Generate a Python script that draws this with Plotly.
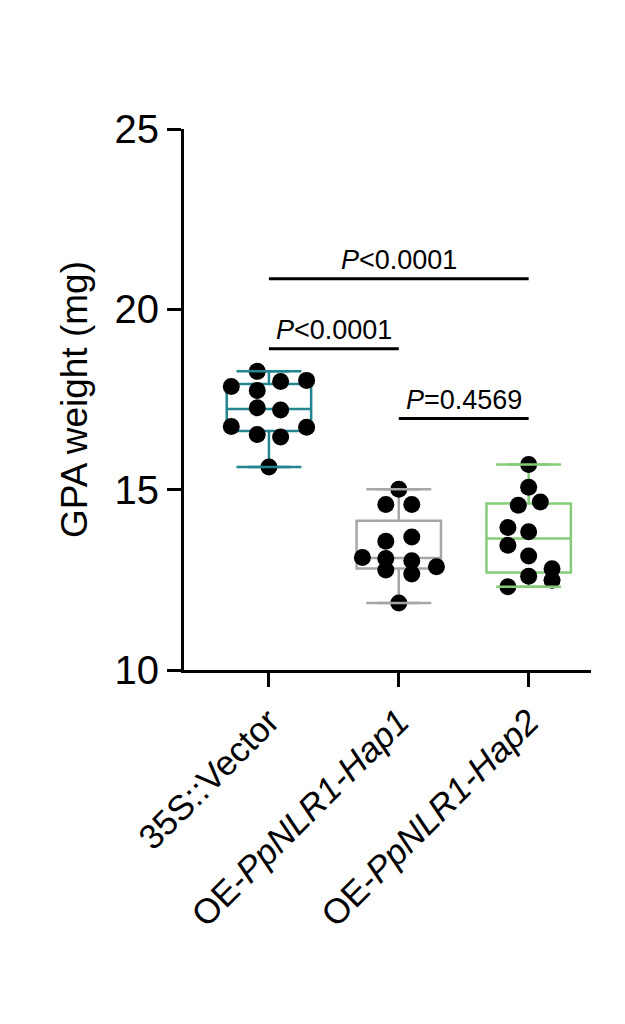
import plotly.graph_objects as go
import numpy as np

categories = ["35S::Vector", "OE-<i>PpNLR1-Hap1</i>", "OE-<i>PpNLR1-Hap2</i>"]
vec = [18.28, 18.00, 18.03, 17.86, 17.75, 17.27, 17.21, 16.75, 16.73, 16.53, 16.46, 15.63]
hap1 = [15.01, 14.59, 14.59, 13.69, 13.57, 13.12, 13.09, 13.03, 12.86, 12.77, 12.66, 11.86]
hap2 = [15.70, 15.07, 14.57, 14.66, 13.95, 13.83, 13.46, 13.16, 12.81, 12.60, 12.49, 12.31]
jit1 = [-0.09, 0.09, 0.29, -0.29, -0.09, -0.09, 0.09, -0.29, 0.29, -0.09, 0.09, 0.0]
jit2 = [0.0, -0.1, 0.1, 0.1, -0.1, -0.28, -0.1, 0.1, 0.29, -0.1, 0.1, 0.0]
jit3 = [0.0, 0.0, -0.08, 0.09, -0.16, 0.0, -0.16, 0.0, 0.18, 0.0, 0.18, -0.16]
colors = ["#23858f", "#a6a6a6", "#86cc78"]
sig = [(0, 2, 20.85, "<i>P</i>&lt;0.0001"), (0, 1, 18.91, "<i>P</i>&lt;0.0001"), (1, 2, 16.97, "<i>P</i>=0.4569")]

fig = go.Figure()
shapes = []
for i, (vals, jit, c) in enumerate(zip([vec, hap1, hap2], [jit1, jit2, jit3], colors)):
    fig.add_trace(go.Box(y=vals, x=[i]*len(vals), boxpoints=False, width=0.65,
                         line=dict(color=c, width=2.5), fillcolor="rgba(0,0,0,0)",
                         quartilemethod="exclusive", whiskerwidth=0.5, showlegend=False))
    for v in (min(vals), max(vals)):
        shapes.append(dict(type="line", xref="x", yref="y", x0=i-0.25, x1=i+0.25, y0=v, y1=v,
                           line=dict(color=c, width=2.5)))
    fig.add_trace(go.Scatter(x=[i+j for j in jit], y=vals, mode="markers",
                             marker=dict(color="black", size=17), showlegend=False))

for a, b, y, t in sig:
    shapes.append(dict(type="line", xref="x", yref="y", x0=a, x1=b, y0=y, y1=y,
                       line=dict(color="black", width=3)))
    fig.add_annotation(x=(a+b)/2, y=y, text=t, showarrow=False, yanchor="bottom", yshift=2,
                       font=dict(size=27, color="black", family="Liberation Sans, Arial"))

fig.update_layout(
    width=625, height=1024, plot_bgcolor="white", paper_bgcolor="white",
    margin=dict(l=176, r=42, t=121, b=362), shapes=shapes,
    font=dict(family="Liberation Sans, Arial", color="black"),
    xaxis=dict(range=[-0.654, 2.48], tickvals=[0, 1, 2], ticktext=categories, tickangle=-45,
               showline=True, linecolor="black", linewidth=3, ticks="outside", ticklen=14,
               tickwidth=3, tickcolor="black", tickfont=dict(size=35), showgrid=False, zeroline=False),
    yaxis=dict(range=[10, 25], tickvals=[10, 15, 20, 25], showline=True, linecolor="black",
               linewidth=3, ticks="outside", ticklen=14, tickwidth=3, tickcolor="black",
               tickfont=dict(size=40), showgrid=False, zeroline=False,
               title=dict(text="GPA weight (mg)", font=dict(size=37), standoff=16)),
)
fig.write_html("out.html")
